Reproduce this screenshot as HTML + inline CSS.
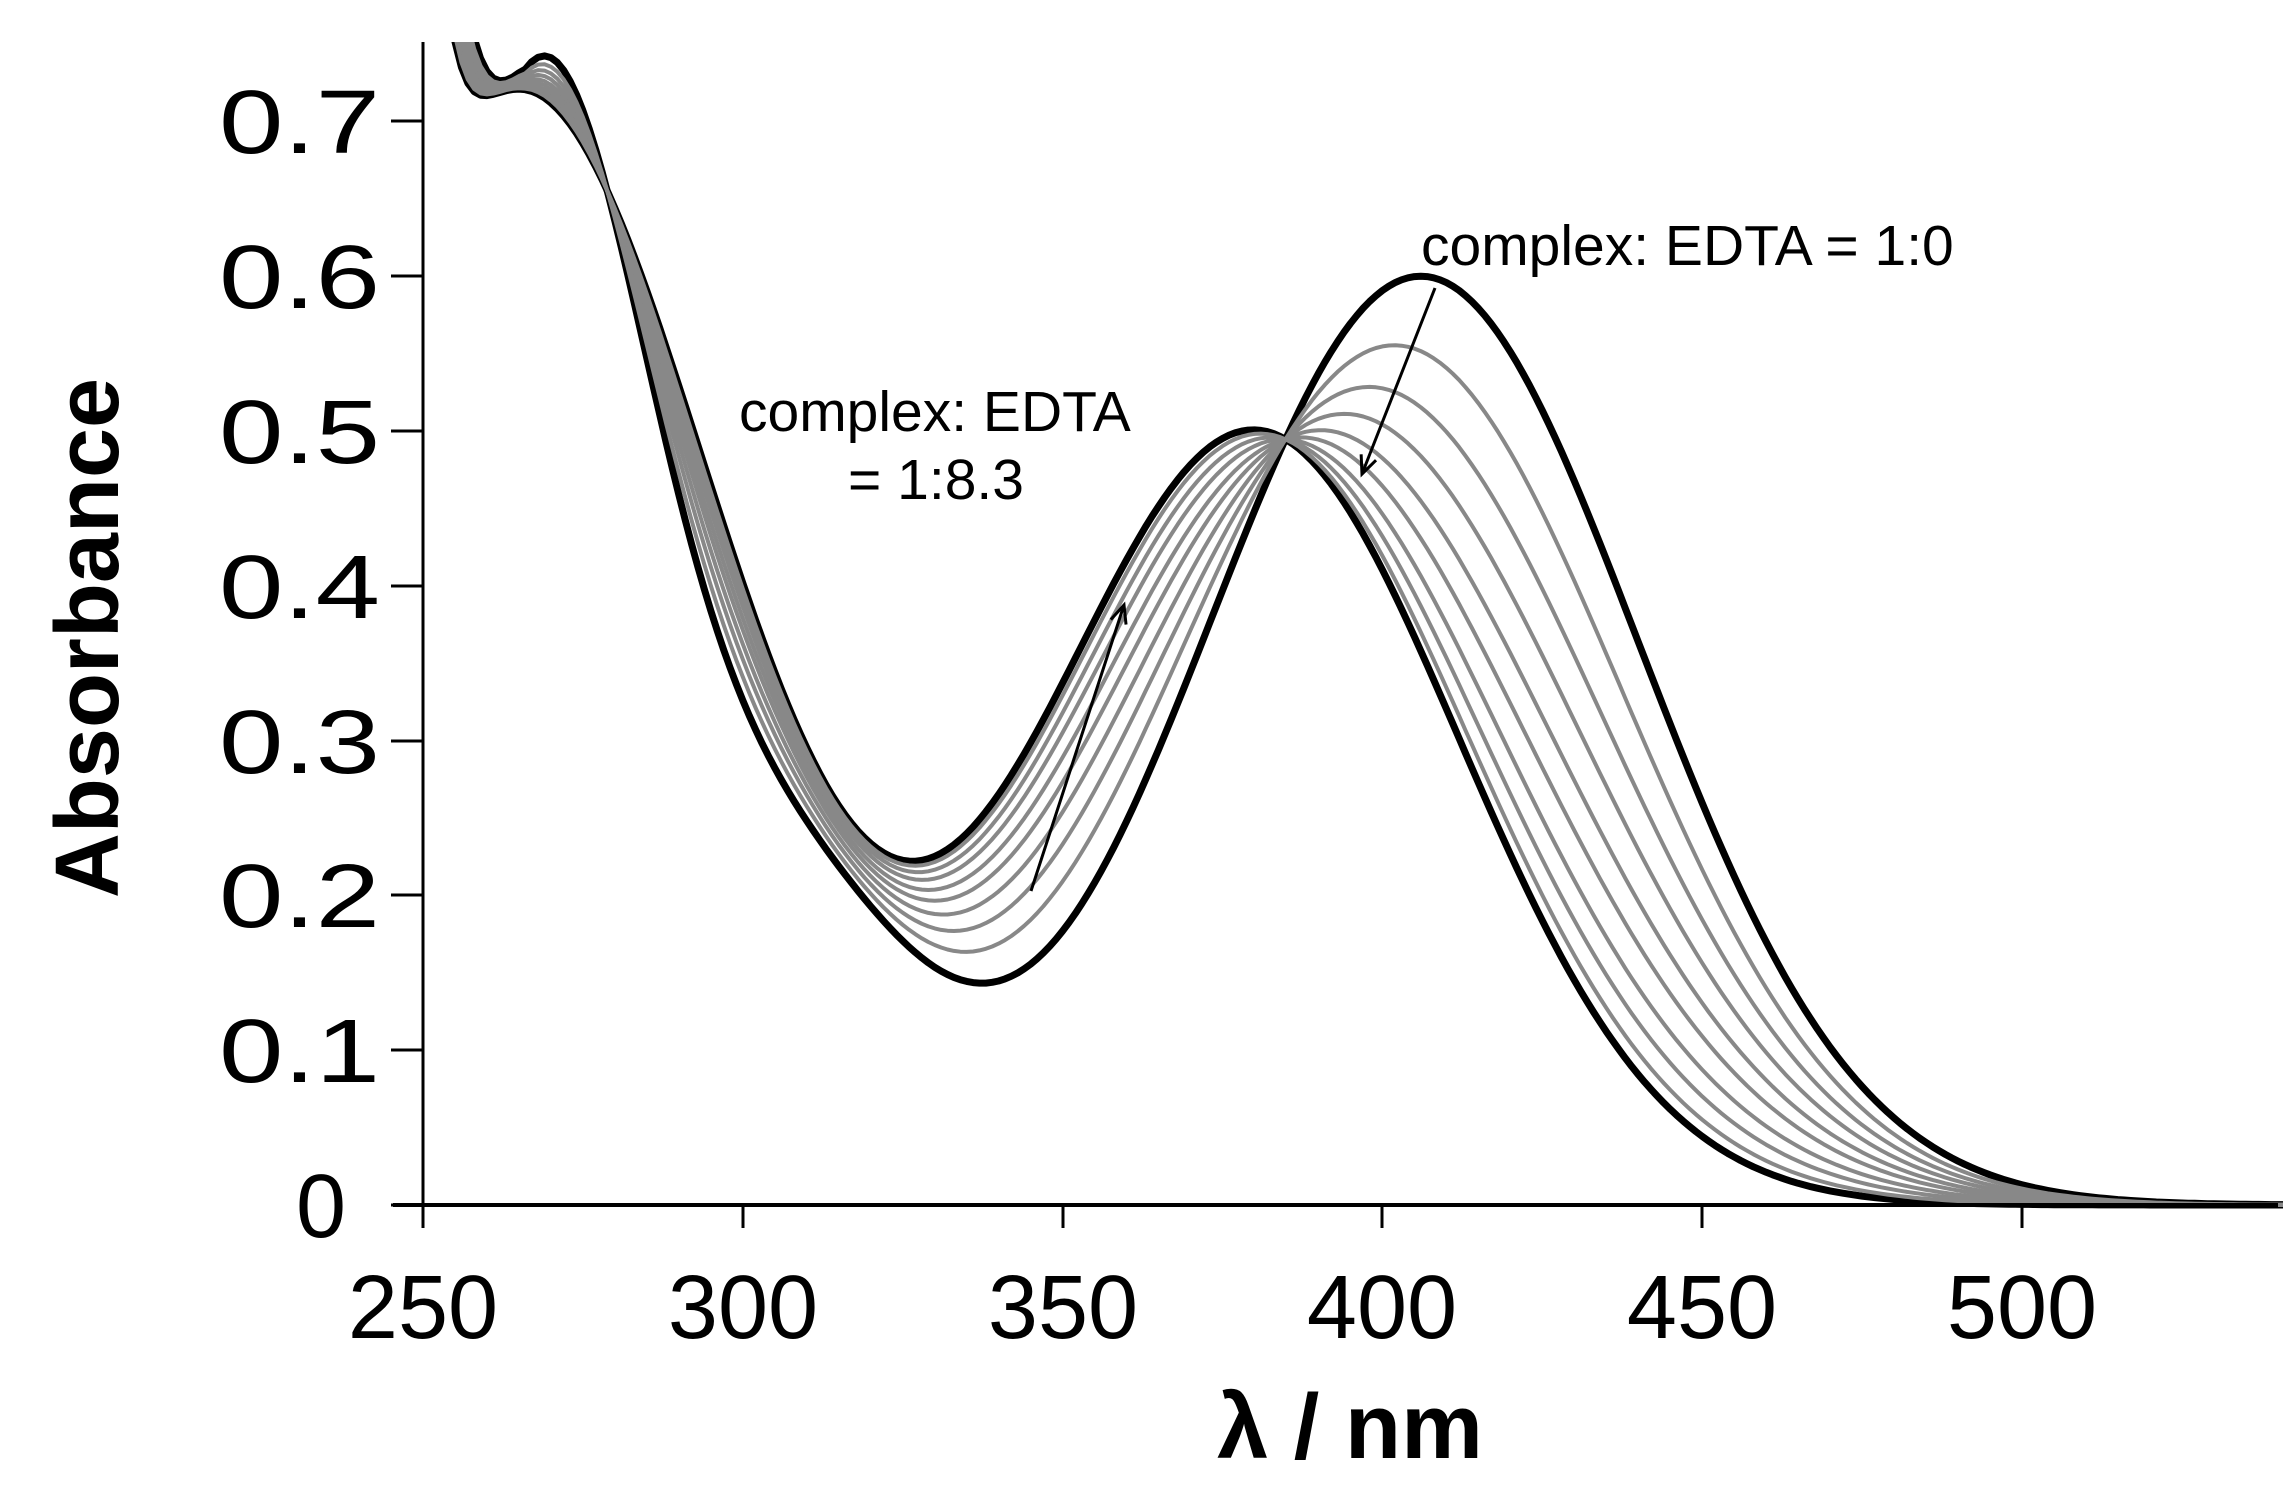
<!DOCTYPE html>
<html><head><meta charset="utf-8">
<style>
html,body{margin:0;padding:0;background:#fff;}
svg{display:block;font-family:"Liberation Sans",Arial,sans-serif;}
</style></head>
<body>
<svg id="s" width="2295" height="1495" viewBox="0 0 2295 1495" xmlns="http://www.w3.org/2000/svg">
<defs>
<clipPath id="c"><rect x="423" y="42" width="1860" height="1170"/></clipPath>
<marker id="ar" markerWidth="24" markerHeight="24" refX="20" refY="12" orient="auto" markerUnits="userSpaceOnUse" viewBox="0 0 24 24">
<path d="M2,4 L20,12 L2,20" fill="none" stroke="#000" stroke-width="3"/>
</marker>
</defs>
<g id="curves" clip-path="url(#c)"></g>
<line x1="423" y1="42" x2="423" y2="1206" stroke="#000" stroke-width="3"/>
<line x1="393" y1="1205" x2="2278" y2="1205" stroke="#000" stroke-width="4"/>
<g stroke="#000" stroke-width="3">
<line x1="391" y1="1205" x2="423" y2="1205"/>
<line x1="391" y1="1050" x2="423" y2="1050"/>
<line x1="391" y1="895" x2="423" y2="895"/>
<line x1="391" y1="741" x2="423" y2="741"/>
<line x1="391" y1="586" x2="423" y2="586"/>
<line x1="391" y1="431" x2="423" y2="431"/>
<line x1="391" y1="276" x2="423" y2="276"/>
<line x1="391" y1="121" x2="423" y2="121"/>
<line x1="423" y1="1205" x2="423" y2="1228"/>
<line x1="743" y1="1205" x2="743" y2="1228"/>
<line x1="1063" y1="1205" x2="1063" y2="1228"/>
<line x1="1382" y1="1205" x2="1382" y2="1228"/>
<line x1="1702" y1="1205" x2="1702" y2="1228"/>
<line x1="2022" y1="1205" x2="2022" y2="1228"/>
</g>
<g font-size="90">
<text x="296" y="1237">0</text>
<text x="219" y="1082" textLength="161" lengthAdjust="spacingAndGlyphs">0.1</text>
<text x="219" y="927" textLength="161" lengthAdjust="spacingAndGlyphs">0.2</text>
<text x="219" y="773" textLength="161" lengthAdjust="spacingAndGlyphs">0.3</text>
<text x="219" y="618" textLength="161" lengthAdjust="spacingAndGlyphs">0.4</text>
<text x="219" y="463" textLength="161" lengthAdjust="spacingAndGlyphs">0.5</text>
<text x="219" y="308" textLength="161" lengthAdjust="spacingAndGlyphs">0.6</text>
<text x="219" y="153" textLength="161" lengthAdjust="spacingAndGlyphs">0.7</text>
</g>
<g font-size="90" text-anchor="middle">
<text x="423" y="1338">250</text>
<text x="743" y="1338">300</text>
<text x="1063" y="1338">350</text>
<text x="1382" y="1338">400</text>
<text x="1702" y="1338">450</text>
<text x="2022" y="1338">500</text>
</g>
<text x="1350" y="1458" font-size="92" font-weight="bold" text-anchor="middle">λ / nm</text>
<text transform="translate(118,638) rotate(-90)" font-size="90" font-weight="bold" text-anchor="middle">Absorbance</text>
<g font-size="57">
<text x="1421" y="265">complex: EDTA = 1:0</text>
<text x="739" y="431">complex: EDTA</text>
<text x="936" y="499" text-anchor="middle">= 1:8.3</text>
</g>
<line x1="1031" y1="891" x2="1124" y2="605" stroke="#000" stroke-width="3" marker-end="url(#ar)"/>
<line x1="1435" y1="288" x2="1362" y2="474" stroke="#000" stroke-width="3" marker-end="url(#ar)"/>
<script>
(function(){
function g(x,c,a,s){return a*Math.exp(-(x-c)*(x-c)/(2*s*s));}
function A0(l){var s=l<266?50:17;return g(l,406,0.60,34)+g(l,267,0.68,s)+g(l,303,0.22,22)+g(l,245,0.6,6);}
function A1(l){return g(l,380,0.50,31.8)+g(l,265,0.72,31)+g(l,245,0.5,5);}
function X(l){return 423+(l-250)*6.396;}
function Y(a){return 1205-a*1548;}
function path(t){var d="";for(var l=248;l<=541;l+=1){var a=(1-t)*A0(l)+t*A1(l);d+=(l==248?"M":"L")+X(l).toFixed(1)+","+Y(a).toFixed(1);}return d;}
var G=document.getElementById("curves"),ns="http://www.w3.org/2000/svg";
function add(t,col,w){var p=document.createElementNS(ns,"path");p.setAttribute("d",path(t));p.setAttribute("fill","none");p.setAttribute("stroke",col);p.setAttribute("stroke-width",w);p.setAttribute("stroke-linejoin","round");G.appendChild(p);}
add(0,"#000",7);add(1,"#000",7);
[0.2,0.35,0.48,0.6,0.7,0.8,0.88,0.95].forEach(function(t){add(t,"#888",4);});
})();
</script>
</svg>
</body></html>
